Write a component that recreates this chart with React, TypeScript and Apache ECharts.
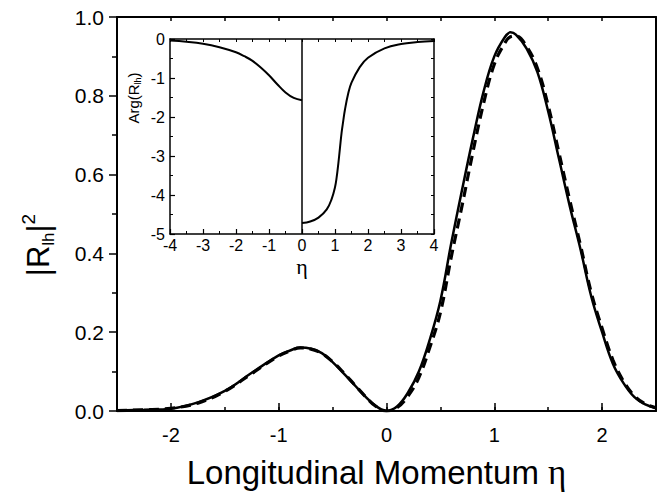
import React, { useEffect, useRef } from "react";
import * as echarts from "echarts";

// Main plot: |R_lh|^2 vs longitudinal momentum eta
const mainEta = [-2.5, -2.25, -2, -1.75, -1.5, -1.25, -1, -0.9, -0.8, -0.7, -0.6, -0.5, -0.4, -0.3, -0.2, -0.1, 0, 0.1, 0.2, 0.3, 0.4, 0.5, 0.6, 0.7, 0.8, 0.9, 1.0, 1.1, 1.15, 1.2, 1.3, 1.4, 1.5, 1.6, 1.7, 1.8, 1.9, 2.0, 2.1, 2.2, 2.3, 2.4, 2.5];
const solidR2 = [0.001, 0.003, 0.006, 0.022, 0.051, 0.097, 0.141, 0.153, 0.161, 0.158, 0.147, 0.124, 0.096, 0.067, 0.038, 0.013, 0.0, 0.012, 0.047, 0.1, 0.18, 0.28, 0.425, 0.56, 0.69, 0.81, 0.9, 0.95, 0.961, 0.955, 0.92, 0.86, 0.76, 0.64, 0.52, 0.41, 0.29, 0.2, 0.12, 0.07, 0.035, 0.017, 0.008];
const dashedR2 = [0.001, 0.003, 0.007, 0.02, 0.05, 0.095, 0.14, 0.152, 0.16, 0.157, 0.146, 0.125, 0.098, 0.068, 0.038, 0.012, 0.0, 0.009, 0.038, 0.085, 0.16, 0.25, 0.39, 0.52, 0.655, 0.78, 0.88, 0.935, 0.95, 0.952, 0.925, 0.87, 0.775, 0.655, 0.535, 0.42, 0.3, 0.21, 0.13, 0.075, 0.038, 0.018, 0.008];
const mainXTicks = [-2, -1, 0, 1, 2];

// Inset: Arg(R_lh) vs eta
const insetLeftEta = [-4, -3.5, -3, -2.5, -2, -1.75, -1.5, -1.25, -1, -0.75, -0.5, -0.25, 0];
const insetLeftArg = [-0.04, -0.07, -0.12, -0.21, -0.34, -0.44, -0.56, -0.73, -0.93, -1.16, -1.37, -1.51, -1.57];
const insetRightEta = [0, 0.25, 0.5, 0.75, 0.9, 1.0, 1.05, 1.1, 1.15, 1.2, 1.25, 1.3, 1.4, 1.5, 1.75, 2, 2.5, 3, 3.5, 4];
const insetRightArg = [-4.72, -4.68, -4.58, -4.37, -4.1, -3.8, -3.55, -3.2, -2.8, -2.4, -2.1, -1.82, -1.4, -1.12, -0.72, -0.48, -0.24, -0.13, -0.08, -0.05];
const jumpEta = [0, 0];
const jumpArg = [0, -5];

const SANS = "'Liberation Sans', Arial, sans-serif";
const SERIF = "'Liberation Serif', 'DejaVu Serif', serif";

const pairs = (xs: number[], ys: number[]) => xs.map((x, i) => [x, ys[i]]);

export default function App() {
  const ref = useRef<HTMLDivElement>(null);
  useEffect(() => {
    if (!ref.current) return;
    const chart = echarts.init(ref.current, null, { renderer: "svg" });
    const black = "#000";
    const line = (w: number) => ({ lineStyle: { color: black, width: w } });
    const axLine = (w: number) => ({ show: true, onZero: false, lineStyle: { color: black, width: w } });
    chart.setOption({
      animation: false,
      backgroundColor: "#fff",
      textStyle: { fontFamily: SANS, color: black },
      grid: [
        { left: 117, top: 17, width: 539, height: 408 },
        { left: 170, top: 39, width: 264, height: 195 },
      ],
      xAxis: [
        {
          type: "value", gridIndex: 0, position: "bottom", min: -2.5, max: 2.5, interval: 0.5,
          axisLine: axLine(2),
          axisTick: { show: true, inside: true, length: 8, customValues: mainXTicks, ...line(1.5) },
          axisLabel: { show: true, customValues: mainXTicks, fontSize: 20, margin: 14, color: black, fontFamily: SANS },
          splitLine: { show: false },
          name: "{a|Longitudinal Momentum }{e|η}",
          nameLocation: "middle", nameGap: 44,
          nameTextStyle: {
            padding: [0, 20, 0, 0],
            rich: {
              a: { fontSize: 33, fontFamily: SANS, color: black },
              e: { fontSize: 35, fontFamily: SERIF, color: black },
            },
          },
        },
        {
          type: "value", gridIndex: 0, position: "bottom", min: -2.5, max: 2.5, interval: 0.5,
          axisLine: { show: false, onZero: false },
          axisTick: { show: true, inside: true, length: 4, ...line(1.5) },
          axisLabel: { show: false }, splitLine: { show: false },
        },
        {
          type: "value", gridIndex: 0, position: "top", min: -2.5, max: 2.5, interval: 0.5,
          axisLine: axLine(2),
          axisTick: { show: true, inside: true, length: 4, ...line(1.5) },
          axisLabel: { show: false }, splitLine: { show: false },
        },
        {
          type: "value", gridIndex: 1, position: "bottom", min: -4, max: 4, interval: 1,
          axisLine: axLine(1.5),
          axisTick: { show: true, inside: true, length: 5, ...line(1.2) },
          minorTick: { show: true, splitNumber: 2, length: 3, ...line(1) },
          axisLabel: { show: true, fontSize: 16, margin: 3, color: black, fontFamily: SANS },
          splitLine: { show: false },
          name: "η", nameLocation: "middle", nameGap: 21, nameMoveOverlap: false,
          nameTextStyle: { fontSize: 22, lineHeight: 22, fontFamily: SERIF, color: black, verticalAlign: "top" },
        },
        {
          type: "value", gridIndex: 1, position: "top", min: -4, max: 4, interval: 0.5,
          axisLine: axLine(1.5),
          axisTick: { show: true, inside: true, length: 3, ...line(1) },
          axisLabel: { show: false }, splitLine: { show: false },
        },
      ],
      yAxis: [
        {
          type: "value", gridIndex: 0, position: "left", min: 0, max: 1, interval: 0.2,
          axisLine: axLine(2),
          axisTick: { show: true, inside: false, length: 8, ...line(1.5) },
          minorTick: { show: true, splitNumber: 2, length: 5, ...line(1.5) },
          axisLabel: { show: true, fontSize: 21, margin: 13, color: black, fontFamily: SANS, formatter: (v: number) => v.toFixed(1) },
          splitLine: { show: false },
          name: "{b||R}{s|lh}{b||}{p|2}",
          nameLocation: "middle", nameGap: 60,
          nameTextStyle: {
            padding: [0, 62, 0, 0],
            rich: {
              b: { fontSize: 31, lineHeight: 38, fontFamily: SANS, color: black },
              s: { fontSize: 17, lineHeight: 17, verticalAlign: "bottom", fontFamily: SANS, color: black },
              p: { fontSize: 19, lineHeight: 19, verticalAlign: "top", fontFamily: SANS, color: black },
            },
          },
        },
        {
          type: "value", gridIndex: 0, position: "right", min: 0, max: 1, interval: 0.2,
          axisLine: axLine(2),
          axisTick: { show: false }, axisLabel: { show: false }, splitLine: { show: false },
        },
        {
          type: "value", gridIndex: 1, position: "left", min: -5, max: 0, interval: 1,
          axisLine: axLine(1.5),
          axisTick: { show: true, inside: true, length: 5, ...line(1.2) },
          minorTick: { show: true, splitNumber: 2, length: 3, ...line(1) },
          axisLabel: { show: true, fontSize: 16, margin: 5, color: black, fontFamily: SANS },
          splitLine: { show: false },
        },
        {
          type: "value", gridIndex: 1, position: "right", min: -5, max: 0, interval: 0.5,
          axisLine: axLine(1.5),
          axisTick: { show: true, inside: true, length: 3, ...line(1) },
          axisLabel: { show: false }, splitLine: { show: false },
        },
      ],
      graphic: [
        {
          type: "text", x: 133, y: 98, rotation: Math.PI / 2,
          style: {
            text: "{a|Arg(R}{s|lh}{a|)}",
            align: "center", verticalAlign: "middle",
            rich: {
              a: { fontSize: 15, lineHeight: 19, fontFamily: SANS, fill: black },
              s: { fontSize: 9, lineHeight: 9, verticalAlign: "bottom", fontFamily: SANS, fill: black },
            },
          },
        },
      ],
      series: [
        {
          type: "line", xAxisIndex: 0, yAxisIndex: 0, data: pairs(mainEta, dashedR2),
          smooth: 0.4, showSymbol: false, symbol: "none",
          lineStyle: { color: black, width: 3.2, type: [10, 6] },
        },
        {
          type: "line", xAxisIndex: 0, yAxisIndex: 0, data: pairs(mainEta, solidR2),
          smooth: 0.4, showSymbol: false, symbol: "none",
          lineStyle: { color: black, width: 2.5 },
        },
        {
          type: "line", xAxisIndex: 3, yAxisIndex: 2, data: pairs(insetLeftEta, insetLeftArg),
          smooth: 0.4, showSymbol: false, symbol: "none",
          lineStyle: { color: black, width: 2 },
        },
        {
          type: "line", xAxisIndex: 3, yAxisIndex: 2, data: pairs(insetRightEta, insetRightArg),
          smooth: 0.4, showSymbol: false, symbol: "none",
          lineStyle: { color: black, width: 2 },
        },
        {
          type: "line", xAxisIndex: 3, yAxisIndex: 2, data: pairs(jumpEta, jumpArg),
          showSymbol: false, symbol: "none",
          lineStyle: { color: black, width: 1.5 },
        },
      ],
    });
    return () => chart.dispose();
  }, []);
  return <div ref={ref} style={{ position: "fixed", left: 0, top: 0, width: 657, height: 495 }} />;
}
